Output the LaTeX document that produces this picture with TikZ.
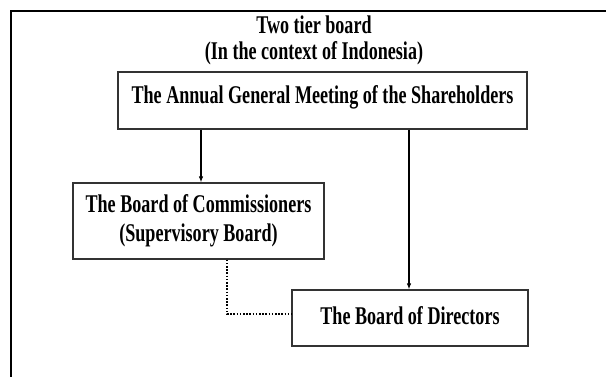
\documentclass[tikz,border=0pt]{standalone}
\usepackage{fontspec}
\setmainfont{Liberation Serif}[FakeStretch=0.71]
\usetikzlibrary{arrows.meta}

\tikzset{
  boardbox/.style={draw=black!80, line width=1.2pt, inner sep=0pt, font=\fontsize{25.5}{29}\selectfont\bfseries, align=center},
  downarrow/.style={line width=1.1pt, -{Latex[length=6pt,width=4.5pt]}},
  dotlink/.style={line width=1.9pt, dash pattern={on 1.6pt off 1.6pt}}
}

\begin{document}
\begin{tikzpicture}[x=1pt,y=1pt,yscale=-1,xscale=1]
    \clip (0,0) rectangle (606,377); %set diagram size 606 x 377

    %Outer frame (cut at right and bottom)
    \draw [line width=2pt]  (11,390) -- (11,11) -- (620,11) ;

    % Text Node
    \node (title) at (314,40) [inner sep=0pt, font=\fontsize{25.5}{26}\selectfont\bfseries, align=center] {Two tier board\\(In the context of Indonesia)};
    % Text Node
    \node (agm) at (322.5,100.5) [boardbox, minimum width=409pt, text height=32pt, text depth=25pt] {The Annual General Meeting of the Shareholders};
    % Text Node
    \node (com) at (198.5,221) [boardbox, minimum width=251pt, minimum height=76pt] {The Board of Commissioners\\(Supervisory Board)};
    % Text Node
    \node (dir) at (410,318) [boardbox, minimum width=236pt, text height=34pt, text depth=22pt] {The\ Board of Directors};

    %Straight Lines
    \draw [downarrow]  ([xshift=2.5pt]agm.south -| com.north) -- ([xshift=2.5pt]com.north) ;
    %Straight Lines
    \draw [downarrow]  ([xshift=-1pt]agm.south -| dir.north) -- ([xshift=-1pt]dir.north) ;
    %Dotted Lines
    \draw [dotlink]  ([xshift=28.5pt]com.south) |- ([yshift=-4pt]dir.west) ;

\end{tikzpicture}
\end{document}
